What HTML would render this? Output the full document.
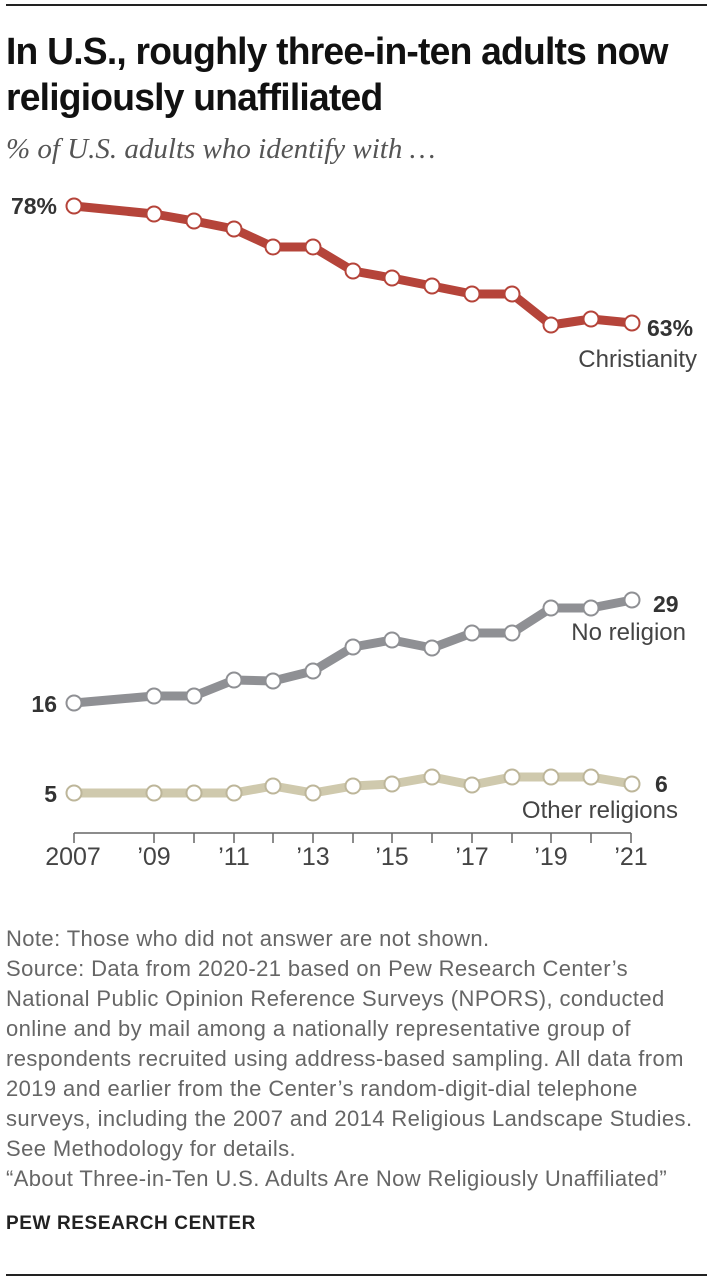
<!DOCTYPE html>
<html><head><meta charset="utf-8"><style>
body{margin:0;background:#fff;width:720px;height:1282px;position:relative;font-family:"Liberation Sans",sans-serif;overflow:hidden}
.rule{position:absolute;left:6px;height:2px;background:#222}
h1{position:absolute;left:6px;top:29px;margin:0;font-size:38px;line-height:46px;font-weight:bold;color:#111;letter-spacing:-0.8px;transform:scaleX(0.98);transform-origin:left;white-space:nowrap}
.sub{position:absolute;left:6px;top:133px;font-family:"Liberation Serif",serif;font-style:italic;font-size:29px;line-height:33px;color:#555;white-space:nowrap}
.foot{position:absolute;left:6px;top:924px;font-size:22px;line-height:30px;color:#666;white-space:nowrap;letter-spacing:0.4px}
.pew{position:absolute;left:6px;top:1213px;font-size:19px;font-weight:bold;color:#222;letter-spacing:0.6px}
</style></head><body>
<div class="rule" style="top:4px;width:701px"></div>
<h1>In U.S., roughly three-in-ten adults now<br>religiously unaffiliated</h1>
<div class="sub">% of U.S. adults who identify with …</div>
<svg width="720" height="900" style="position:absolute;left:0;top:0" font-family="Liberation Sans, sans-serif">
<g fill="none" stroke-linejoin="round" stroke-width="9">
<polyline stroke="#b5443a" points="74,206 154,214 194,221 234,229 273,247 313,247 353,271 392,278 432,286 472,294 512,294 551,325 591,319 632,323"/>
<polyline stroke="#8f9094" points="74,703 154,696 194,696 234,680 273,681 313,671 353,647 392,640 432,648 472,633 512,633 551,608 591,608 632,600"/>
<polyline stroke="#cfc9ad" points="74,793 154,793 194,793 234,793 273,786 313,793 353,786 392,784 432,777 472,785 512,777 551,777 591,777 632,784"/>
</g>
<g fill="#fff" stroke-width="2">
<g stroke="#b5443a"><circle cx="74" cy="206" r="7.5"/><circle cx="154" cy="214" r="7.5"/><circle cx="194" cy="221" r="7.5"/><circle cx="234" cy="229" r="7.5"/><circle cx="273" cy="247" r="7.5"/><circle cx="313" cy="247" r="7.5"/><circle cx="353" cy="271" r="7.5"/><circle cx="392" cy="278" r="7.5"/><circle cx="432" cy="286" r="7.5"/><circle cx="472" cy="294" r="7.5"/><circle cx="512" cy="294" r="7.5"/><circle cx="551" cy="325" r="7.5"/><circle cx="591" cy="319" r="7.5"/><circle cx="632" cy="323" r="7.5"/></g>
<g stroke="#8f9094"><circle cx="74" cy="703" r="7.5"/><circle cx="154" cy="696" r="7.5"/><circle cx="194" cy="696" r="7.5"/><circle cx="234" cy="680" r="7.5"/><circle cx="273" cy="681" r="7.5"/><circle cx="313" cy="671" r="7.5"/><circle cx="353" cy="647" r="7.5"/><circle cx="392" cy="640" r="7.5"/><circle cx="432" cy="648" r="7.5"/><circle cx="472" cy="633" r="7.5"/><circle cx="512" cy="633" r="7.5"/><circle cx="551" cy="608" r="7.5"/><circle cx="591" cy="608" r="7.5"/><circle cx="632" cy="600" r="7.5"/></g>
<g stroke="#bdb69a"><circle cx="74" cy="793" r="7.5"/><circle cx="154" cy="793" r="7.5"/><circle cx="194" cy="793" r="7.5"/><circle cx="234" cy="793" r="7.5"/><circle cx="273" cy="786" r="7.5"/><circle cx="313" cy="793" r="7.5"/><circle cx="353" cy="786" r="7.5"/><circle cx="392" cy="784" r="7.5"/><circle cx="432" cy="777" r="7.5"/><circle cx="472" cy="785" r="7.5"/><circle cx="512" cy="777" r="7.5"/><circle cx="551" cy="777" r="7.5"/><circle cx="591" cy="777" r="7.5"/><circle cx="632" cy="784" r="7.5"/></g>
</g>
<g font-size="23" font-weight="bold" fill="#333">
<text x="57" y="214" text-anchor="end">78%</text>
<text x="647" y="336">63%</text>
<text x="57" y="712" text-anchor="end">16</text>
<text x="653" y="612">29</text>
<text x="57" y="802" text-anchor="end">5</text>
<text x="655" y="792">6</text>
</g>
<g font-size="24" fill="#444">
<text x="697" y="367" text-anchor="end">Christianity</text>
<text x="686" y="640" text-anchor="end">No religion</text>
<text x="678" y="818" text-anchor="end">Other religions</text>
</g>
<g stroke="#666" stroke-width="1.5">
<line x1="74" y1="833" x2="631" y2="833"/>
<line x1="74" y1="833" x2="74" y2="843"/><line x1="154" y1="833" x2="154" y2="843"/><line x1="194" y1="833" x2="194" y2="843"/><line x1="234" y1="833" x2="234" y2="843"/><line x1="273" y1="833" x2="273" y2="843"/><line x1="313" y1="833" x2="313" y2="843"/><line x1="353" y1="833" x2="353" y2="843"/><line x1="392" y1="833" x2="392" y2="843"/><line x1="432" y1="833" x2="432" y2="843"/><line x1="472" y1="833" x2="472" y2="843"/><line x1="512" y1="833" x2="512" y2="843"/><line x1="551" y1="833" x2="551" y2="843"/><line x1="591" y1="833" x2="591" y2="843"/><line x1="631" y1="833" x2="631" y2="843"/>
</g>
<g font-size="25" fill="#444" text-anchor="middle">
<text x="73" y="865">2007</text><text x="154" y="865">’09</text><text x="234" y="865">’11</text><text x="313" y="865">’13</text><text x="392" y="865">’15</text><text x="472" y="865">’17</text><text x="551" y="865">’19</text><text x="631" y="865">’21</text>
</g>
</svg>
<div class="foot">Note: Those who did not answer are not shown.<br>Source: Data from 2020-21 based on Pew Research Center’s<br>National Public Opinion Reference Surveys (NPORS), conducted<br>online and by mail among a nationally representative group of<br>respondents recruited using address-based sampling. All data from<br>2019 and earlier from the Center’s random-digit-dial telephone<br>surveys, including the 2007 and 2014 Religious Landscape Studies.<br>See Methodology for details.<br>“About Three-in-Ten U.S. Adults Are Now Religiously Unaffiliated”</div>
<div class="pew">PEW RESEARCH CENTER</div>
<div class="rule" style="top:1274px;width:701px"></div>
</body></html>
